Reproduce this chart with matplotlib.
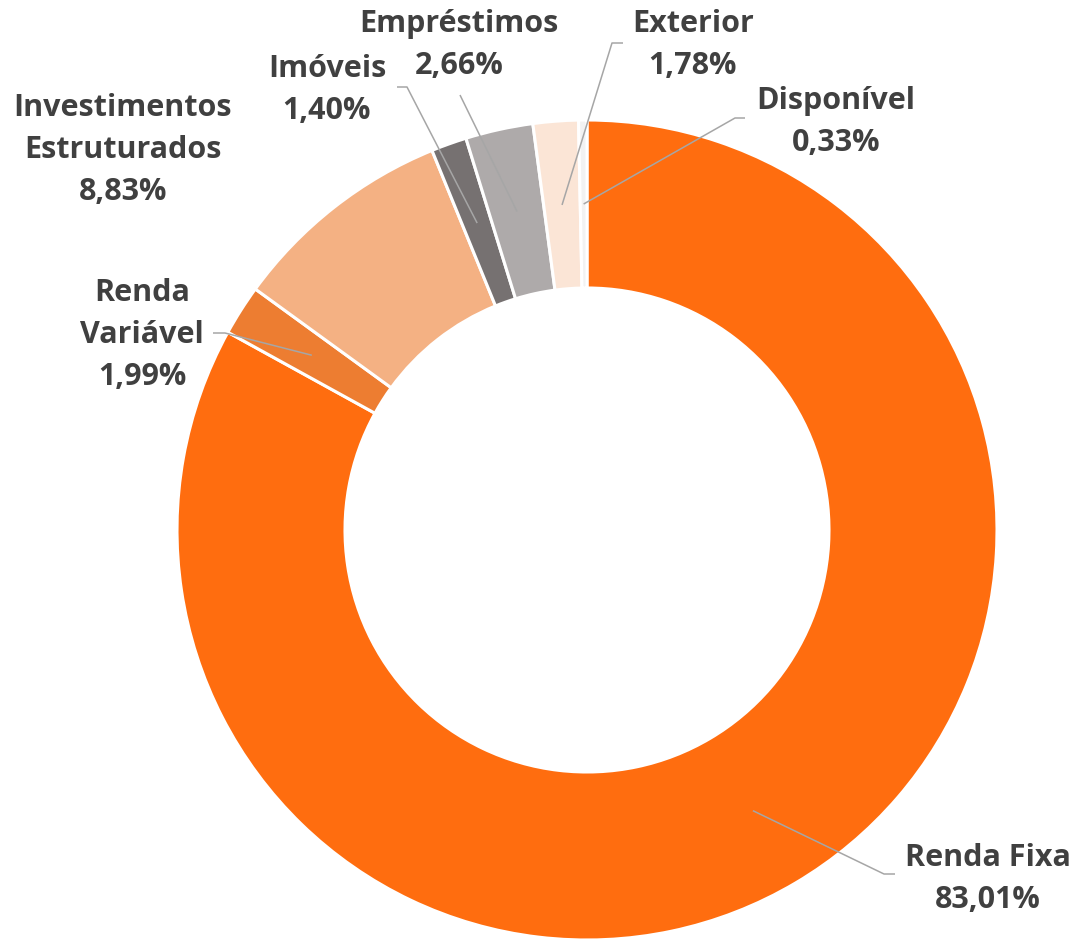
import matplotlib
matplotlib.use("Agg")
import matplotlib.pyplot as plt
import numpy as np

# Portfolio allocation (%), clockwise from 12 o'clock
categories = ["Renda Fixa", "Renda\nVariável", "Investimentos\nEstruturados",
              "Imóveis", "Empréstimos", "Exterior", "Disponível"]
values = [83.01, 1.99, 8.83, 1.40, 2.66, 1.78, 0.33]
colors = ["#FF6D0F", "#ED7D31", "#F4B183", "#767171", "#AEAAAA", "#FBE5D6", "#F2F2F2"]

W, H = 1073, 941
CX, CY = 587, 530          # donut centre (pixel, y down)
R_OUT, R_IN = 410, 242
TEXT = "#404040"
LEADER = "#A6A6A6"

# label anchor (pixel, y down) and leader elbow points (None = no leader)
label_pos = [(988, 879), (142, 335), (123, 150), (327, 90), (459, 45), (693, 45), (836, 122)]
elbows = [
    [(895, 874), (884, 874)],
    [(213, 333), (225, 333)],
    None,
    [(397, 87), (407, 87)],
    [(460, 95)],
    [(623, 43), (612, 43)],
    [(745, 118), (735, 118)],
]


def fy(y):
    return H - y


fig = plt.figure(figsize=(W / 100, H / 100), dpi=100)
ax = fig.add_axes([0, 0, 1, 1])

wedges, _ = ax.pie(
    values, colors=colors, startangle=90, counterclock=False,
    center=(CX, fy(CY)), radius=R_OUT, frame=True,
    wedgeprops=dict(width=R_OUT - R_IN, edgecolor="white", linewidth=2.2),
)
ax.set_xlim(0, W)
ax.set_ylim(0, H)
ax.axis("off")

r_mid = (R_OUT + R_IN) / 2
for i, (name, v) in enumerate(zip(categories, values)):
    w = wedges[i]
    ang = np.deg2rad((w.theta1 + w.theta2) / 2)
    mx, my = CX + r_mid * np.cos(ang), fy(CY) + r_mid * np.sin(ang)
    if elbows[i] is not None:
        xs = [p[0] for p in elbows[i]] + [mx]
        ys = [fy(p[1]) for p in elbows[i]] + [my]
        ax.plot(xs, ys, color=LEADER, lw=1.1, solid_capstyle="butt", zorder=3)
    lx, ly = label_pos[i]
    pct = f"{v:.2f}%".replace(".", ",")
    ax.text(lx, fy(ly), f"{name}\n{pct}", ha="center", va="center",
            fontsize=22, fontweight="bold", color=TEXT, family="Open Sans",
            linespacing=1.52, zorder=4)

fig.savefig("out.png", dpi=100)
